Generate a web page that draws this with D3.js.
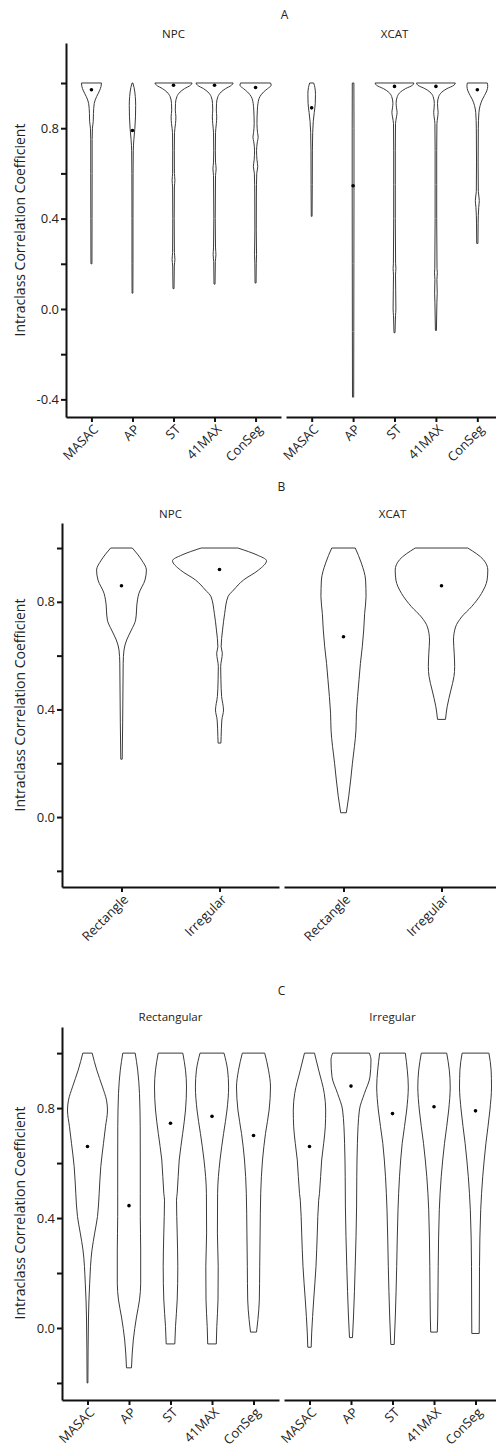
<!DOCTYPE html>
<html>
<head>
<meta charset="utf-8">
<script src="https://cdn.jsdelivr.net/npm/d3@7"></script>
<style>
body { margin: 0; background: #fff; }
text { font-family: "Open Sans", sans-serif; fill: #222; }
</style>
</head>
<body>
<div id="chart"></div>
<script>
// categories and tick labels
const methods = ["MASAC", "AP", "ST", "41MAX", "ConSeg"];
const shapes = ["Rectangle", "Irregular"];
const yTicks = [1.0, 0.8, 0.6, 0.4, 0.2, 0.0, -0.2, -0.4];
const yTickLabels = ["", "0.8", "", "0.4", "", "0.0", "", "-0.4"];
const yTitle = "Intraclass Correlation Coefficient";

// medians (dots)
const medA_NPC = [0.97, 0.79, 0.99, 0.99, 0.98];
const medA_XCAT = [0.89, 0.545, 0.985, 0.985, 0.97];
const medB_NPC = [0.86, 0.92];
const medB_XCAT = [0.67, 0.86];
const medC_Rect = [0.66, 0.445, 0.745, 0.77, 0.70];
const medC_Irr = [0.66, 0.88, 0.78, 0.805, 0.79];

// violin outlines: [ICC value, relative density]
const violA_NPC = [
  [[1.0,0.5],[0.985,0.48],[0.965,0.4],[0.94,0.26],[0.91,0.14],[0.865,0.1],[0.83,0.09],[0.8,0.05],[0.75,0.035],[0.6,0.035],[0.4,0.03],[0.2,0.025]],
  [[1.0,0.02],[0.98,0.08],[0.94,0.14],[0.9,0.16],[0.85,0.15],[0.8,0.12],[0.75,0.07],[0.7,0.04],[0.6,0.03],[0.4,0.025],[0.2,0.025],[0.07,0.02]],
  [[1.0,0.93],[0.99,0.85],[0.975,0.55],[0.96,0.33],[0.94,0.17],[0.91,0.1],[0.88,0.09],[0.85,0.12],[0.82,0.1],[0.78,0.05],[0.7,0.04],[0.6,0.045],[0.57,0.07],[0.54,0.045],[0.4,0.035],[0.25,0.045],[0.22,0.07],[0.19,0.04],[0.09,0.025]],
  [[1.0,0.93],[0.99,0.85],[0.975,0.55],[0.96,0.33],[0.94,0.17],[0.91,0.1],[0.88,0.09],[0.85,0.11],[0.82,0.09],[0.78,0.05],[0.7,0.04],[0.65,0.05],[0.62,0.08],[0.59,0.05],[0.4,0.035],[0.27,0.05],[0.24,0.07],[0.21,0.04],[0.11,0.025]],
  [[1.0,0.75],[0.99,0.78],[0.975,0.6],[0.96,0.4],[0.94,0.22],[0.91,0.12],[0.88,0.09],[0.82,0.07],[0.78,0.1],[0.76,0.13],[0.74,0.09],[0.7,0.05],[0.66,0.07],[0.63,0.11],[0.6,0.06],[0.5,0.04],[0.35,0.035],[0.24,0.05],[0.2,0.035],[0.115,0.025]]
];
const violA_XCAT = [
  [[1.0,0.1],[0.98,0.16],[0.95,0.19],[0.91,0.18],[0.87,0.13],[0.83,0.08],[0.78,0.05],[0.7,0.035],[0.55,0.03],[0.41,0.02]],
  [[1.0,0.04],[0.8,0.045],[0.55,0.045],[0.2,0.04],[-0.1,0.035],[-0.39,0.03]],
  [[1.0,0.97],[0.99,0.9],[0.975,0.55],[0.96,0.3],[0.94,0.14],[0.91,0.08],[0.89,0.1],[0.87,0.13],[0.85,0.1],[0.82,0.05],[0.7,0.04],[0.55,0.04],[0.4,0.04],[0.2,0.055],[0.18,0.07],[0.15,0.05],[0.08,0.06],[0.0,0.07],[-0.03,0.05],[-0.105,0.025]],
  [[1.0,0.97],[0.99,0.9],[0.975,0.55],[0.96,0.3],[0.94,0.14],[0.91,0.08],[0.89,0.09],[0.87,0.11],[0.85,0.09],[0.82,0.05],[0.7,0.04],[0.55,0.04],[0.4,0.04],[0.18,0.055],[0.16,0.07],[0.13,0.05],[0.07,0.065],[0.03,0.05],[-0.095,0.025]],
  [[1.0,0.5],[0.985,0.52],[0.965,0.47],[0.945,0.36],[0.925,0.24],[0.9,0.14],[0.87,0.08],[0.8,0.05],[0.65,0.04],[0.52,0.05],[0.48,0.1],[0.45,0.07],[0.38,0.04],[0.29,0.03]]
];
const violB_NPC = [
  [[1.0,0.23],[0.955,0.43],[0.918,0.53],[0.881,0.5],[0.831,0.37],[0.807,0.34],[0.732,0.3],[0.695,0.21],[0.658,0.11],[0.621,0.053],[0.572,0.036],[0.45,0.03],[0.35,0.025],[0.215,0.015]],
  [[1.0,0.39],[0.974,0.8],[0.953,1.0],[0.918,0.83],[0.881,0.51],[0.844,0.3],[0.819,0.18],[0.757,0.11],[0.695,0.065],[0.633,0.035],[0.609,0.06],[0.559,0.025],[0.51,0.03],[0.448,0.045],[0.398,0.085],[0.361,0.05],[0.3,0.035],[0.275,0.03]]
];
const violB_XCAT = [
  [[1.0,0.25],[0.944,0.38],[0.881,0.47],[0.819,0.48],[0.757,0.45],[0.695,0.43],[0.633,0.4],[0.571,0.36],[0.51,0.33],[0.448,0.3],[0.386,0.275],[0.323,0.265],[0.2,0.19],[0.075,0.11],[0.016,0.06]],
  [[1.0,0.56],[0.957,0.89],[0.918,0.985],[0.881,0.97],[0.831,0.85],[0.782,0.64],[0.744,0.43],[0.707,0.3],[0.658,0.255],[0.609,0.27],[0.559,0.28],[0.522,0.265],[0.472,0.2],[0.41,0.12],[0.363,0.085]]
];
const violC_Rect = [
  [[1.0,0.235],[0.938,0.465],[0.877,0.75],[0.829,0.95],[0.793,1.0],[0.732,0.9],[0.672,0.8],[0.587,0.665],[0.49,0.585],[0.405,0.5],[0.345,0.36],[0.284,0.225],[0.163,0.11],[0.04,0.05],[-0.2,0.02]],
  [[1.0,0.31],[0.938,0.435],[0.853,0.525],[0.732,0.56],[0.611,0.565],[0.49,0.565],[0.405,0.565],[0.284,0.585],[0.163,0.585],[0.102,0.525],[0.04,0.375],[-0.044,0.215],[-0.145,0.125]],
  [[1.0,0.615],[0.938,0.75],[0.877,0.8],[0.793,0.75],[0.708,0.61],[0.611,0.435],[0.49,0.335],[0.465,0.3],[0.345,0.335],[0.223,0.365],[0.102,0.335],[0.005,0.25],[-0.058,0.215]],
  [[1.0,0.6],[0.938,0.78],[0.877,0.83],[0.793,0.75],[0.708,0.58],[0.611,0.4],[0.49,0.28],[0.345,0.27],[0.223,0.31],[0.102,0.3],[0.005,0.24],[-0.058,0.215]],
  [[1.0,0.56],[0.938,0.75],[0.877,0.85],[0.793,0.78],[0.708,0.6],[0.611,0.45],[0.49,0.36],[0.345,0.33],[0.223,0.31],[0.102,0.29],[0.03,0.22],[-0.015,0.15]]
];
const violC_Irr = [
  [[1.0,0.25],[0.938,0.46],[0.853,0.74],[0.793,0.81],[0.732,0.79],[0.672,0.71],[0.611,0.61],[0.49,0.5],[0.465,0.46],[0.345,0.39],[0.224,0.325],[0.102,0.21],[-0.018,0.11],[-0.07,0.085]],
  [[1.0,0.92],[0.975,1.0],[0.914,0.95],[0.853,0.67],[0.793,0.42],[0.672,0.32],[0.55,0.29],[0.44,0.28],[0.224,0.21],[0.04,0.125],[-0.035,0.075]],
  [[1.0,0.64],[0.938,0.74],[0.877,0.79],[0.793,0.71],[0.672,0.485],[0.55,0.35],[0.43,0.275],[0.224,0.21],[0.04,0.14],[-0.06,0.085]],
  [[1.0,0.635],[0.938,0.765],[0.877,0.81],[0.793,0.735],[0.672,0.525],[0.55,0.36],[0.43,0.265],[0.224,0.21],[0.04,0.185],[-0.015,0.165]],
  [[1.0,0.67],[0.938,0.78],[0.877,0.8],[0.793,0.72],[0.672,0.52],[0.55,0.36],[0.43,0.26],[0.224,0.2],[0.04,0.19],[-0.02,0.185]]
];

const W = 496, H = 1449;
const svg = d3.select("#chart").append("svg")
  .attr("width", W)
  .attr("height", H);

// one panel = y axis + two sub panels
const panels = [
  { letter: "A", letterY: 15, titleY: 34, top: 43, bottom: 417, domain: [-0.478, 1.177], yLabel: 230,
    left: [66, 281], right: [286, 503], pad: 0.62, maxHalf: 20, cats: methods,
    subs: [{ name: "NPC", viol: violA_NPC, med: medA_NPC }, { name: "XCAT", viol: violA_XCAT, med: medA_XCAT }] },
  { letter: "B", letterY: 487, titleY: 514, top: 523, bottom: 887, domain: [-0.26, 1.093], yLabel: 705,
    left: [62, 279], right: [284, 501], pad: 0.607, maxHalf: 47, cats: shapes,
    subs: [{ name: "NPC", viol: violB_NPC, med: medB_NPC }, { name: "XCAT", viol: violB_XCAT, med: medB_XCAT }] },
  { letter: "C", letterY: 991, titleY: 1017, top: 1027, bottom: 1400, domain: [-0.262, 1.095], yLabel: 1213,
    left: [62, 279], right: [284, 501], pad: 0.614, maxHalf: 20, cats: methods,
    subs: [{ name: "Rectangular", viol: violC_Rect, med: medC_Rect }, { name: "Irregular", viol: violC_Irr, med: medC_Irr }] }
];

panels.forEach(p => {
  const g = svg.append("g");
  const y = d3.scaleLinear().domain(p.domain).range([p.bottom, p.top]);
  const w = d3.scaleLinear().domain([0, 1]).range([0, p.maxHalf]);

  g.append("text")
    .attr("x", (p.left[0] + p.right[1]) / 2)
    .attr("y", p.letterY)
    .attr("dy", "0.35em")
    .attr("text-anchor", "middle")
    .style("font-size", "12px")
    .text(p.letter);

  // y axis
  const ticks = yTicks.filter(t => t >= p.domain[0] && t <= p.domain[1]);
  const yAxis = d3.axisLeft(y)
    .tickValues(ticks)
    .tickSize(5)
    .tickSizeOuter(0)
    .tickFormat(d => yTickLabels[yTicks.indexOf(d)]);
  const ya = g.append("g")
    .attr("transform", "translate(" + p.left[0] + ",0)")
    .call(yAxis);
  ya.select(".domain").attr("stroke", "#111").attr("stroke-width", 2);
  ya.selectAll(".tick line").attr("stroke", "#111").attr("stroke-width", 2);
  ya.selectAll(".tick text").style("font-size", "13px").style("font-family", "Open Sans").attr("fill", "#222").attr("x", -7);

  g.append("text")
    .attr("transform", "translate(20," + p.yLabel + ") rotate(-90)")
    .attr("dy", "0.35em")
    .attr("text-anchor", "middle")
    .style("font-size", "14px")
    .text(yTitle);

  p.subs.forEach((s, si) => {
    const rng = si === 0 ? p.left : p.right;
    const x = d3.scalePoint().domain(p.cats).range(rng).padding(p.pad);

    g.append("text")
      .attr("x", (rng[0] + rng[1]) / 2)
      .attr("y", p.titleY)
      .attr("dy", "0.35em")
      .attr("text-anchor", "middle")
      .style("font-size", "11.5px")
      .text(s.name);

    const xAxis = d3.axisBottom(x).tickSize(5).tickSizeOuter(0);
    const xa = g.append("g")
      .attr("transform", "translate(0," + p.bottom + ")")
      .call(xAxis);
    xa.select(".domain").attr("stroke", "#111").attr("stroke-width", 2);
    xa.selectAll(".tick line").attr("stroke", "#111").attr("stroke-width", 2);
    xa.selectAll(".tick text")
      .style("font-size", "13px")
      .style("font-family", "Open Sans")
      .attr("fill", "#222")
      .attr("text-anchor", "end")
      .attr("transform", "translate(4,10) rotate(-45)")
      .attr("x", 0).attr("y", 0)
      .attr("dy", "0.35em");

    s.viol.forEach((v, i) => {
      const cx = x(p.cats[i]);
      const area = d3.area()
        .curve(d3.curveMonotoneY)
        .y(d => y(d[0]))
        .x0(d => cx - w(d[1]))
        .x1(d => cx + w(d[1]));
      g.append("path")
        .datum(v)
        .attr("d", area)
        .attr("fill", "none")
        .attr("stroke", "#3a3a3a")
        .attr("stroke-width", 1);
      g.append("circle")
        .attr("cx", cx)
        .attr("cy", y(s.med[i]))
        .attr("r", 1.8)
        .attr("fill", "#000");
    });
  });
});
</script>
</body>
</html>
